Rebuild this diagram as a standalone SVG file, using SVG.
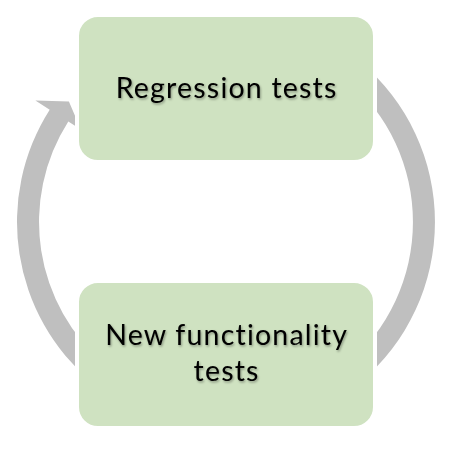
<svg xmlns="http://www.w3.org/2000/svg" width="450" height="456" viewBox="0 0 450 456">
<defs>
<filter id="ts" x="-10%" y="-30%" width="120%" height="160%">
<feDropShadow dx="1" dy="1.5" stdDeviation="1" flood-color="#000" flood-opacity="0.35"/>
</filter>
<style>
.arc{fill:#bfbfbf;stroke:none}
.box{fill:#cfe2c1;stroke:#ffffff;stroke-width:4}
.lbl{font-family:Lato,"Open Sans","Liberation Sans",sans-serif;font-size:28.5px;letter-spacing:1.2px;fill:#000;text-anchor:middle;filter:url(#ts)}
</style>
</defs>
<rect width="450" height="456" fill="#fff"/>
<g id="connectors">
<path class="arc" d="M105.8,365.2 A187,187 0 0 1 68.3,121.5 L80.9,129.6 L68.9,101.5 L35.4,100.6 L49.7,109.7 A209,209 0 0 0 91.7,382.1 Z"/>
<path class="arc" d="M360.3,61.9 A209,209 0 0 1 360.3,382.1 L346.2,365.2 A187,187 0 0 0 346.2,78.8 Z"/>
</g>
<g id="regression">
<rect class="box" x="77" y="15" width="298" height="147" rx="21"/>
<text class="lbl" x="226.6" y="98">Regression tests</text>
</g>
<g id="newfunc">
<rect class="box" x="77" y="281" width="298" height="147" rx="21"/>
<text class="lbl" x="226.6" y="345"><tspan x="226.6" y="345">New functionality</tspan><tspan x="226.6" y="381">tests</tspan></text>
</g>
</svg>
